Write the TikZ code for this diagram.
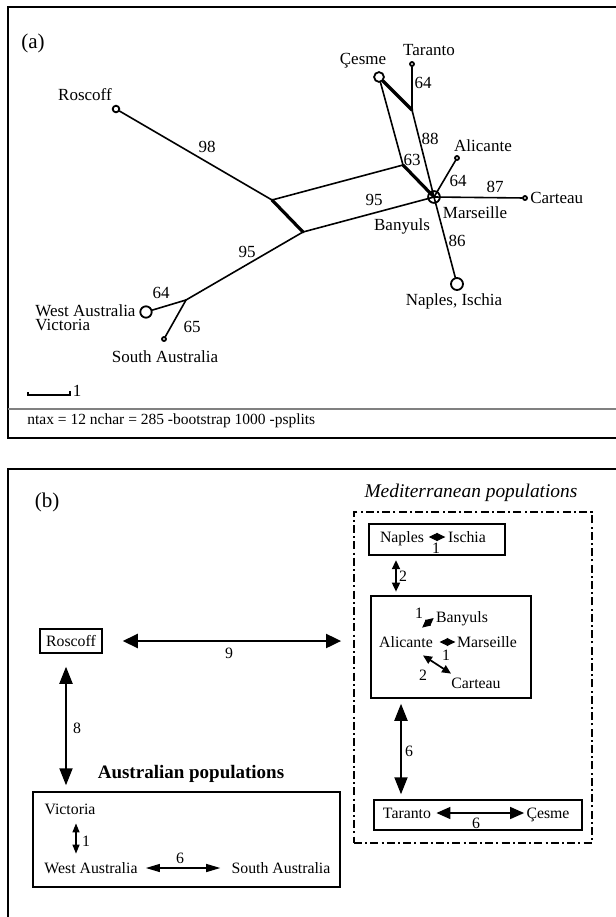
\documentclass[tikz,border=0pt]{standalone}
\usepackage{fontspec}
\setmainfont{Liberation Serif}
\usetikzlibrary{arrows.meta,positioning}

\tikzset{
  taxon/.style={circle,draw,line width=0.9pt,inner sep=0pt,minimum size=#1},
  split/.style={line width=0.8pt,line cap=round},
  thicksplit/.style={line width=1.6pt,line cap=round},
  frame/.style={line width=0.6pt},
  lab/.style={inner sep=0pt,text height=0.7em,text depth=0.2em,font=\fontsize{8.5}{10}\selectfont},
  blab/.style={inner sep=0pt,text height=0.7em,text depth=0.2em,font=\fontsize{7.9}{9}\selectfont},
  panel/.style={inner sep=0pt,font=\fontsize{10.5}{12}\selectfont},
  note/.style={inner sep=0pt,font=\fontsize{7.75}{9}\selectfont},
  popbox/.style={draw,line width=0.75pt,inner sep=0pt},
  medbox/.style={draw,line width=0.9pt,inner sep=0pt,dash pattern=on 4pt off 1.6pt on 1pt off 1.6pt},
  both/.style n args={3}{>={Triangle[length=#1,width=#2]},<->,line width=#3},
  bigarrow/.style={both={7.5pt}{7pt}{1pt}},
  longarrow/.style={both={8.5pt}{6.5pt}{1pt}},
  pairarrow/.style={both={7pt}{6pt}{0.75pt}},
  midarrow/.style={both={4.5pt}{4pt}{0.85pt}},
  thinarrow/.style={both={4.5pt}{3.5pt}{0.65pt}},
  twin/.style={both={4.3pt}{4pt}{0.5pt}},
  smalltwin/.style={both={4pt}{3.8pt}{0.5pt}}
}

\begin{document}
\begin{tikzpicture}[x=0.5pt,y=-0.5pt]
	\useasboundingbox (0,0) rectangle (616,917);

	% ---------------- (a) ----------------
	\draw[frame] (616,7) -- (8,7) -- (8,438) -- (616,438);
	\draw[frame,gray] (8,409) -- (616,409);
	\node[panel] (pa) at (33,43) {(a)};

	% taxa
	\node[taxon=3.3pt] (ros) at (116,109) {};
	\node[taxon=4.9pt] (ces) at (379,77) {};
	\node[taxon=2pt] (tar) at (412,64) {};
	\node[taxon=2pt] (ali) at (457,158) {};
	\node[taxon=2pt] (car) at (525,198) {};
	\node[taxon=5.9pt] (mar) at (434,197) {};
	\node[taxon=6pt] (nap) at (457,284) {};
	\node[taxon=5.7pt] (wau) at (146,312) {};
	\node[taxon=2pt] (sau) at (164,339) {};

	% split points
	\coordinate (s1) at (272,200);
	\coordinate (s2) at (303,232);
	\coordinate (s3) at (403,165);
	\coordinate (s4) at (412,110);
	\coordinate (s5) at (186,300);

	% edges
	\draw[split] (ros) -- (s1);
	\draw[thicksplit] (s1) -- (s2);
	\draw[split] (s1) -- (s3);
	\draw[split] (s2) -- (mar.center);
	\draw[thicksplit] (s3) -- (mar.center);
	\draw[split] (s3) -- (ces);
	\draw[thicksplit] (ces) -- (s4);
	\draw[split] (s4) -- (tar);
	\draw[split] (s4) -- (mar.center);
	\draw[split] (mar.center) -- (ali);
	\draw[split] (mar.center) -- (car);
	\draw[split] (mar.center) -- (nap);
	\draw[split] (s2) -- (s5);
	\draw[split] (s5) -- (wau);
	\draw[split] (s5) -- (sau);

	% labels
	\node[lab] (lros) at (85,95) {Roscoff};
	\node[lab] (l98) at (207,147) {98};
	\node[lab] (l95a) at (247,252) {95};
	\node[lab] (l64a) at (161,293) {64};
	\node[lab,anchor=west] (lwau) at (35,311) {West Australia};
	\node[lab,anchor=west] (lvic) at (35,325) {Victoria};
	\node[lab] (l65) at (192,327) {65};
	\node[lab] (lsau) at (165,357) {South Australia};
	\node[lab] (lces) at (363,59) {Çesme};
	\node[lab] (ltar) at (429,50) {Taranto};
	\node[lab] (l64b) at (423,83) {64};
	\node[lab] (l88) at (430,139) {88};
	\node[lab] (l63) at (412,160) {63};
	\node[lab] (lali) at (483,146) {Alicante};
	\node[lab] (l64c) at (458,181) {64};
	\node[lab] (l87) at (495,187) {87};
	\node[lab,right=1pt of car] (lcar) {Carteau};
	\node[lab] (l95b) at (374,200) {95};
	\node[lab] (lban) at (402,225) {Banyuls};
	\node[lab] (lmar) at (475,213) {Marseille};
	\node[lab] (l86) at (457,241) {86};
	\node[lab] (lnap) at (454,300) {Naples, Ischia};

	% scale bar and settings
	\draw[line width=0.65pt] (28,392) -- (28,395) -- (70,395) -- (70,391);
	\node[lab] (lscale) at (77,391) {1};
	\node[note,anchor=west] (ntax) at (27,421) {ntax = 12 nchar = 285 -bootstrap 1000 -psplits};

	% ---------------- (b) ----------------
	\draw[frame] (616,469) -- (8,469) -- (8,917);
	\node[panel] (pb) at (47,502) {(b)};

	% Roscoff
	\node[popbox,blab,minimum width=31pt,minimum height=12pt] (rosB) at (71,641) {Roscoff};

	% Mediterranean populations
	\node[inner sep=0pt,font=\fontsize{9.7}{11}\selectfont\itshape] (medT) at (471,493) {Mediterranean populations};
	\node[medbox,minimum width=119pt,minimum height=165.5pt] (medB) at (473,677.5) {};

	\node[popbox,minimum width=68pt,minimum height=15.5pt] (napBox) at (437,539.5) {};
	\node[blab] (napB) at (402,537) {Naples};
	\node[blab] (iscB) at (467,537) {Ischia};
	\node[blab] (l1a) at (436,548) {1};

	\node[popbox,minimum width=80pt,minimum height=51pt] (cenBox) at (451,647) {};
	\node[blab] (banB) at (462,617) {Banyuls};
	\node[blab] (aliB) at (406,642) {Alicante};
	\node[blab] (marB) at (487,642) {Marseille};
	\node[blab] (carB) at (476,683) {Carteau};
	\node[blab] (l1b) at (419,613) {1};
	\node[blab] (l1c) at (446,655) {1};
	\node[blab] (l2b) at (423,675) {2};

	\node[popbox,minimum width=104pt,minimum height=15pt] (tarBox) at (478,815) {};
	\node[blab] (tarB) at (407,813) {Taranto};
	\node[blab] (cesB) at (548,813) {Çesme};
	\node[blab] (l6c) at (476,823) {6};

	% Australian populations
	\node[inner sep=0pt,font=\fontsize{9.5}{11}\selectfont\bfseries] (ausT) at (191,774) {Australian populations};
	\node[popbox,minimum width=153.5pt,minimum height=47.5pt] (ausBox) at (186.5,839.5) {};
	\node[blab] (vicB) at (70,809) {Victoria};
	\node[blab] (wauB) at (91,868) {West Australia};
	\node[blab] (sauB) at (281,868) {South Australia};
	\node[blab] (l1d) at (86,841) {1};
	\node[blab] (l6d) at (180,858) {6};

	% migration
	\draw[bigarrow,shorten <=10pt,shorten >=6pt] (rosB.east) -- (rosB.east -| medB.west);
	\node[blab] (l9) at (229,653) {9};
	\draw[longarrow,shorten <=6.5pt,shorten >=3pt] ([xshift=-2.5pt]rosB.south) -- ([xshift=-60.25pt]ausBox.north);
	\node[blab] (l8) at (77,728) {8};
	\draw[midarrow,shorten <=2.2pt,shorten >=1.8pt] ([xshift=-20.5pt]napBox.south) -- ([xshift=-27.5pt]cenBox.north);
	\node[blab] (l2a) at (403,576) {2};
	\draw[longarrow,shorten <=2.5pt,shorten >=2.5pt] ([xshift=-25pt]cenBox.south) -- ([xshift=-38.5pt]tarBox.north);
	\node[blab] (l6b) at (409,751) {6};

	\draw[twin,shorten <=2.2pt,shorten >=1.2pt] (napB.east) -- (iscB.west);
	\draw[smalltwin] ([shift={(-11,-5)}]aliB.north east) -- ([shift={(-2,1)}]banB.west);
	\draw[twin,shorten <=3.2pt,shorten >=0.7pt] (aliB.east) -- (marB.west);
	\draw[midarrow] ([xshift=8.5pt,yshift=-2pt]aliB.south) -- (carB.north west);
	\draw[pairarrow,shorten <=2.5pt,shorten >=1pt] (tarB.east) -- (cesB.west);

	\draw[thinarrow,shorten <=2.5pt,shorten >=2.5pt] ([xshift=3pt]vicB.south) -- ([xshift=-7.5pt]wauB.north);
	\draw[both={7pt}{4pt}{0.6pt},shorten <=4pt,shorten >=5.5pt] (wauB.east) -- (sauB.west);
\end{tikzpicture}
\end{document}
